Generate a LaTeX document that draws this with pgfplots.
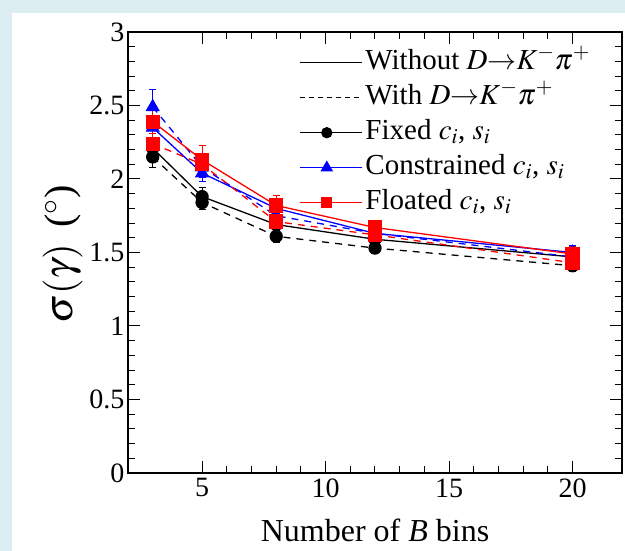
\documentclass[border=0pt]{standalone}
\usepackage{mathptmx}
\usepackage[no-math]{fontspec}
\setmainfont{Liberation Serif}
\usepackage{pgfplots}
\pgfplotsset{compat=1.18}
\definecolor{bgblue}{RGB}{221,238,242}
\definecolor{rblue}{RGB}{0,0,255}
\definecolor{rred}{RGB}{255,0,0}
\begin{document}
\begin{tikzpicture}[x=1pt,y=1pt]
\fill[bgblue] (0,0) rectangle (625,551);
\fill[white] (12,0) rectangle (625,538);
\begin{axis}[
  at={(128pt,78pt)}, anchor=south west,
  scale only axis, width=494pt, height=441pt,
  xmin=2, xmax=22, ymin=0, ymax=3,
  xtick={5,10,15,20}, minor x tick num=4,
  ytick={0,0.5,1,1.5,2,2.5,3}, minor y tick num=4,
  yticklabels={0,0.5,1,1.5,2,2.5,3},
  tick align=inside, xtick pos=both, ytick pos=both,
  major tick length=12pt, minor tick length=7pt,
  axis line style={line width=1.3pt},
  every tick/.style={line width=1pt, black},
  ticklabel style={font=\fontsize{28}{32}\selectfont},
  xticklabel style={yshift=-2pt},
  /pgf/number format/assume math mode=true,
  xlabel={Number of \textit{B} bins},
  ylabel={$\sigma(\gamma)$\, ($^\circ$)},
  xlabel style={font=\fontsize{32}{36}\selectfont, yshift=-15pt},
  ylabel style={font=\fontsize{40}{44}\selectfont, yshift=0pt, xshift=-2pt},
  legend style={draw=none, fill=none, font=\fontsize{29}{33}\selectfont,
    at={(0.34,0.975)}, anchor=north west, row sep=0pt,
    nodes={text height=21pt, text depth=8pt, inner sep=3pt}},
  legend cell align=left,
  legend image code/.code={\draw[mark repeat=2,mark phase=2,#1] plot coordinates {(0pt,0pt) (27pt,0pt) (55pt,0pt)}; \path (0pt,0pt) -- (62pt,0pt);},
  error bars/y dir=both, error bars/y explicit,
  error bars/error mark options={rotate=90, mark size=3.5pt, line width=1pt},
]
\addlegendimage{black, line width=1.3pt}
\addlegendentry{Without $D{\rightarrow}K^{-}\pi^{+}$}
\addlegendimage{black, line width=1.3pt, dash pattern=on 5pt off 4pt}
\addlegendentry{With $D{\rightarrow}K^{-}\pi^{+}$}
\addlegendimage{black, line width=1.3pt, mark=*, mark size=5pt}
\addlegendentry{Fixed $c_i$, $s_i$}
\addlegendimage{rblue, line width=1.3pt, mark=triangle*, mark size=6pt}
\addlegendentry{Constrained $c_i$, $s_i$}
\addlegendimage{rred, line width=1.3pt, mark=square*, mark size=5pt}
\addlegendentry{Floated $c_i$, $s_i$}
% black (fixed)
\addplot[black, line width=1.3pt, mark=*, mark size=6pt, forget plot,
  error bars/error bar style={black, line width=1pt}] coordinates {
  (3,2.21) +- (0,0.07) (5,1.88) +- (0,0.06) (8,1.69) +- (0,0.05) (12,1.59) +- (0,0.05) (20,1.47) +- (0,0.05)};
\addplot[black, line width=1.3pt, dash pattern=on 7pt off 6pt, mark=*, mark size=6pt, mark options={solid}, forget plot,
  error bars/error bar style={black, solid, line width=1pt}] coordinates {
  (3,2.15) +- (0,0.07) (5,1.84) +- (0,0.05) (8,1.61) +- (0,0.04) (12,1.53) +- (0,0.04) (20,1.41) +- (0,0.04)};
% blue (constrained)
\addplot[rblue, line width=1.3pt, mark=triangle*, mark size=7pt, forget plot,
  error bars/error bar style={rblue, line width=1pt}] coordinates {
  (3,2.35) +- (0,0.08) (5,2.04) +- (0,0.06) (8,1.80) +- (0,0.05) (12,1.63) +- (0,0.05) (20,1.50) +- (0,0.05)};
\addplot[rblue, line width=1.3pt, dash pattern=on 7pt off 6pt, mark=triangle*, mark size=7pt, mark options={solid}, forget plot,
  error bars/error bar style={rblue, solid, line width=1pt}] coordinates {
  (3,2.49) +- (0,0.12) (5,2.08) +- (0,0.07) (8,1.75) +- (0,0.06) (12,1.63) +- (0,0.05) (20,1.47) +- (0,0.05)};
% red (floated)
\addplot[rred, line width=1.3pt, mark=square*, mark size=6.5pt, forget plot,
  error bars/error bar style={rred, line width=1pt}] coordinates {
  (3,2.39) +- (0,0.08) (5,2.13) +- (0,0.10) (8,1.82) +- (0,0.07) (12,1.67) +- (0,0.05) (20,1.49) +- (0,0.05)};
\addplot[rred, line width=1.3pt, dash pattern=on 7pt off 6pt, mark=square*, mark size=6.5pt, mark options={solid}, forget plot,
  error bars/error bar style={rred, solid, line width=1pt}] coordinates {
  (3,2.24) +- (0,0.07) (5,2.10) +- (0,0.07) (8,1.71) +- (0,0.05) (12,1.62) +- (0,0.05) (20,1.43) +- (0,0.05)};
\end{axis}
\end{tikzpicture}
\end{document}
